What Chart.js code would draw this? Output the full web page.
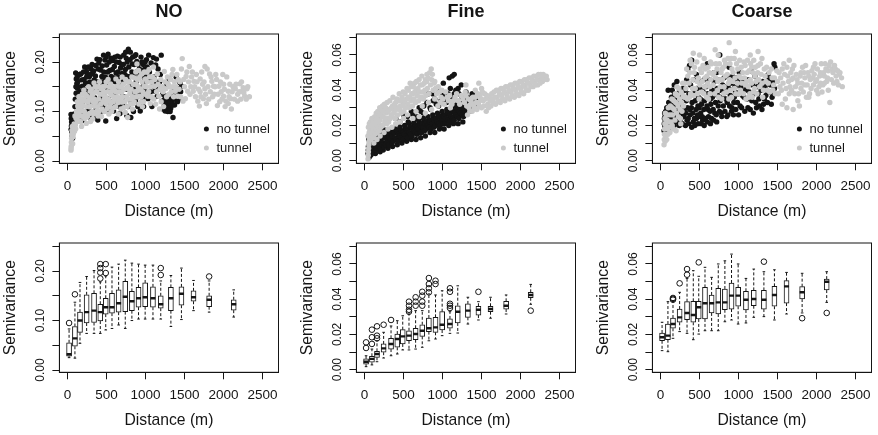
<!DOCTYPE html>
<html>
<head>
<meta charset="utf-8">
<script src="https://cdn.jsdelivr.net/npm/chart.js@4.4.1/dist/chart.umd.min.js"></script>
<style>
  html, body { margin: 0; padding: 0; background: #fff; overflow: hidden; }
  #wrap { position: relative; width: 878px; height: 435px; overflow: hidden; }
  canvas { position: absolute; }
</style>
</head>
<body>
<div id="wrap">
  <canvas id="noScatter" width="293" height="226" style="left:-1px;top:0"></canvas>
  <canvas id="fineScatter" width="293" height="226" style="left:296px;top:0"></canvas>
  <canvas id="coarseScatter" width="293" height="226" style="left:592px;top:0"></canvas>
  <canvas id="noBox" width="293" height="226" style="left:-1px;top:209px"></canvas>
  <canvas id="fineBox" width="293" height="226" style="left:296px;top:209px"></canvas>
  <canvas id="coarseBox" width="293" height="226" style="left:592px;top:209px"></canvas>
</div>
<script>
// ---- axes / labels ----
const panelTitles = ['NO', 'Fine', 'Coarse'];
const seriesNames = ['no tunnel', 'tunnel'];
const xTicks = [0, 500, 1000, 1500, 2000, 2500];
const yTicksNO = [0, 0.05, 0.10, 0.15, 0.20, 0.25];
const yLabelsNO = ['0.00', '0.10', '0.20'];
const yTicksPM = [0, 0.01, 0.02, 0.03, 0.04, 0.05, 0.06, 0.07];
const yLabelsPM = ['0.00', '0.02', '0.04', '0.06'];

// ---- semivariance clouds [distance, semivariance] ----
const noBlack = [
  [45,.094],[48,.086],[52,.079],[50,.071],[46,.064],[55,.058],[60,.051],[65,.046],[58,.090],[70,.083],
  [105,.178],[112,.166],[120,.157],[128,.147],[110,.137],[135,.127],[145,.117],[118,.108],[150,.098],[160,.088],[170,.176],[182,.164],[190,.151],[200,.121],[195,.082],[140,.150],
  [220,.190],[242,.181],[258,.174],[281,.171],[300,.186],[318,.177],[342,.164],[362,.193],[378,.206],[401,.198],[422,.184],[440,.171],[232,.158],[262,.146],[288,.133],[312,.124],[329,.113],[352,.101],[371,.091],[388,.083],[410,.116],[431,.129],[251,.100],[279,.089],[452,.151],[300,.152],[345,.142],
  [462,.214],[480,.204],[502,.194],[520,.216],[541,.183],[560,.171],[580,.203],[600,.191],[622,.178],[640,.212],[662,.199],[680,.188],[700,.177],[470,.161],[512,.141],[550,.119],[590,.101],[630,.086],[672,.096],[490,.081],[531,.103],[611,.131],[652,.144],[690,.156],[571,.161],[595,.168],
  [720,.214],[752,.208],[780,.226],[802,.205],[831,.196],[860,.212],[888,.201],[921,.186],[950,.172],[982,.161],[741,.185],[770,.171],[800,.150],[842,.136],[870,.121],[901,.110],[932,.101],[760,.092],[811,.088],[961,.128],[992,.141],[712,.111],[851,.176],[942,.210],[970,.195],[880,.160],
  [1012,.205],[1040,.214],[1071,.198],[1100,.209],[1130,.194],[1160,.186],[1190,.175],[1060,.165],[1091,.151],[1120,.141],[1150,.131],[1181,.160],[1210,.121],[1240,.112],[1031,.126],[1082,.110],[1201,.214],[1140,.206],
  [1262,.131],[1280,.121],[1301,.113],[1322,.106],[1341,.119],[1251,.101],[1290,.108],[1330,.126],[1352,.088],[1372,.113],[1400,.136],[1421,.146],[1441,.158],[1462,.151],[1392,.170],[1432,.125],[1362,.141],[1302,.166],[1271,.152],
  [75,.072],[85,.095],[95,.110],[100,.125],[108,.150],[125,.170],[132,.160],[155,.175],[165,.140],[175,.110],[185,.095],[205,.180],[212,.165],[225,.140],[235,.125],[245,.170],[255,.155],[268,.190],[275,.118],[285,.160],
  [295,.175],[305,.100],[315,.195],[325,.150],[335,.182],[348,.128],[358,.172],[368,.118],[382,.160],[392,.186],[405,.142],[415,.205],[425,.100],[435,.160],[445,.192],[455,.110],[465,.180],[475,.130],[485,.170],[495,.210],
  [505,.150],[515,.180],[525,.125],[535,.200],[545,.160],[555,.208],[565,.140],[575,.185],[585,.115],[605,.210],[615,.160],[625,.200],[635,.120],[645,.180],[655,.170],[665,.110],[675,.210],[685,.140],[695,.195],[705,.160],
  [715,.195],[725,.130],[735,.175],[745,.220],[755,.145],[765,.200],[775,.110],[785,.190],[795,.170],[805,.220],[815,.120],[825,.180],[835,.210],[845,.100],[855,.195],[865,.145],[875,.215],[885,.180],[895,.130],[905,.195],
  [915,.170],[925,.140],[935,.180],[945,.115],[955,.200],[965,.150],[975,.110],[985,.185],[995,.200],[1005,.170],[1020,.190],[1050,.180],[1065,.140],[1110,.170],[1135,.160],[1170,.145],[1220,.135],[1225,.105],[1245,.125],[1255,.115],
  [1265,.105],[1285,.100],[1295,.128],[1310,.118],[1315,.100],[1335,.112],[1345,.130],[1380,.125],[1410,.120],[1450,.140]
];
const noGray = [
  [45,.022],[48,.030],[50,.038],[52,.046],[55,.054],[58,.062],[62,.070],[46,.026],[66,.035],[70,.049],
  [90,.060],[101,.073],[110,.086],[121,.095],[130,.080],[141,.106],[150,.115],[160,.091],[171,.125],[180,.101],[190,.135],[201,.111],[210,.143],[220,.086],[231,.121],[240,.076],[250,.131],[95,.091],[131,.111],[180,.070],
  [270,.150],[291,.141],[310,.131],[330,.120],[351,.111],[371,.100],[390,.091],[410,.160],[430,.146],[451,.135],[470,.125],[491,.116],[510,.106],[530,.095],[551,.156],[570,.141],[590,.130],[281,.096],[320,.085],[361,.140],[400,.125],[441,.105],[481,.151],[520,.165],[560,.118],[600,.108],[340,.158],[300,.111],
  [620,.166],[640,.151],[661,.140],[680,.128],[700,.119],[721,.108],[740,.098],[760,.160],[781,.145],[800,.136],[821,.125],[840,.116],[860,.168],[881,.155],[900,.142],[921,.131],[940,.120],[960,.110],[981,.151],[1000,.166],[650,.095],[771,.088],[830,.105],[951,.176],[700,.170],[890,.196],[911,.183],
  [1020,.180],[1051,.170],[1080,.160],[1110,.151],[1141,.140],[1170,.131],[1200,.120],[1231,.110],[1260,.146],[1291,.155],[1320,.165],[1351,.150],[1380,.141],[1410,.131],[1441,.160],[1470,.207],[1460,.186],[1030,.131],[1061,.116],[1101,.190],[1151,.176],[1180,.105],[1300,.135],[1401,.175],[1480,.121],[1240,.181],[1350,.185],
  [1520,.171],[1551,.160],[1580,.150],[1611,.141],[1640,.130],[1670,.121],[1700,.166],[1731,.155],[1760,.146],[1790,.186],[1821,.176],[1850,.161],[1880,.135],[1510,.126],[1561,.191],[1600,.180],[1651,.175],[1690,.111],[1741,.126],[1780,.116],[1830,.140],[1871,.151],[1540,.141],[1620,.161],[1761,.191],[1700,.140],
  [1911,.165],[1940,.151],[1970,.140],[2000,.131],[2031,.121],[2060,.116],[2090,.126],[2121,.150],[2150,.146],[2181,.135],[2210,.156],[2240,.141],[2271,.131],[2300,.146],[2331,.130],[1951,.120],[2001,.155],[2061,.141],[2100,.105],[1921,.112],[2041,.170],[2180,.121],[2251,.148],[1990,.175],
  [75,.055],[85,.075],[105,.065],[115,.100],[125,.120],[135,.090],[145,.130],[155,.100],[165,.080],[175,.110],[185,.120],[195,.090],[205,.125],[215,.100],[225,.135],[235,.095],[245,.110],[255,.090],[265,.120],[275,.110],
  [285,.125],[295,.080],[305,.145],[315,.100],[325,.135],[335,.095],[345,.125],[355,.150],[365,.120],[375,.140],[385,.110],[395,.150],[405,.100],[415,.135],[425,.115],[435,.090],[445,.150],[455,.120],[465,.140],[475,.100],
  [485,.130],[495,.160],[505,.120],[515,.140],[525,.125],[535,.150],[545,.110],[555,.135],[565,.100],[575,.150],[585,.120],[595,.145],[605,.125],[615,.110],[625,.140],[635,.130],[645,.118],[655,.160],[665,.125],[675,.150],
  [685,.105],[695,.140],[705,.130],[715,.155],[725,.145],[735,.120],[745,.165],[755,.130],[765,.110],[775,.150],[785,.125],[795,.160],[805,.115],[815,.145],[825,.170],[835,.130],[845,.155],[855,.120],[865,.140],[875,.180],
  [885,.130],[895,.165],[905,.150],[915,.115],[925,.170],[935,.145],[945,.130],[955,.160],[965,.140],[975,.120],[985,.180],[995,.135],[1010,.150],[1025,.160],[1040,.140],[1045,.185],[1065,.150],[1075,.130],[1090,.170],[1105,.125],
  [1120,.165],[1130,.115],[1160,.155],[1185,.145],[1195,.165],[1215,.150],[1225,.140],[1250,.160],[1270,.130],[1280,.170],[1310,.150],[1330,.140],[1340,.175],[1360,.130],[1370,.160],[1390,.150],[1420,.165],[1430,.145],[1450,.130],[1490,.165],
  [1500,.150],[1530,.180],[1570,.135],[1590,.170],[1630,.150],[1660,.160],[1680,.145],[1710,.130],[1720,.180],[1750,.160],[1770,.135],[1800,.150],[1810,.125],[1840,.170],[1860,.130],[1890,.150],[1900,.175],[1930,.135],[1960,.160],[1980,.125],
  [2010,.145],[2020,.110],[2070,.130],[2080,.155],[2110,.140],[2140,.125],[2160,.155],[2200,.140],[2220,.125],[2260,.138],[2290,.125],[2310,.150],[2230,.160]
];
const fineBlack = [
  [45,.004],[50,.008],[55,.012],[60,.002],[48,.006],[65,.010],[52,.014],
  [80,.003],[90,.007],[100,.011],[110,.005],[120,.009],[130,.013],[140,.004],[151,.008],[160,.012],[170,.006],[181,.010],[190,.014],[200,.005],[211,.009],[220,.013],
  [120,.023],[190,.025],[150,.020],[82,.018],[240,.018],
  [240,.006],[261,.010],[280,.014],[300,.007],[321,.011],[340,.015],[360,.008],[381,.012],[400,.016],[420,.009],[441,.013],[460,.017],[480,.010],[501,.014],[520,.018],[540,.011],[561,.015],[580,.019],[600,.012],[621,.016],[640,.020],[660,.012],[681,.017],[700,.021],[720,.013],[741,.018],[760,.022],[780,.014],[801,.019],[820,.023],[840,.016],[861,.020],[880,.024],[900,.016],[921,.021],[940,.025],[960,.018],[981,.022],[1000,.026],[1020,.018],[1041,.023],[1060,.027],[1080,.020],[1101,.024],[1120,.028],[1140,.021],[1161,.025],[1180,.029],[1200,.021],[1221,.026],[1240,.030],[1260,.022],[1281,.027],[1300,.031],
  [400,.024],[451,.022],[500,.026],[550,.025],[601,.028],[650,.024],[700,.030],[751,.027],[800,.033],[850,.029],[901,.035],[950,.031],[1000,.037],[1051,.033],[1100,.041],[1150,.038],[1200,.041],[1251,.036],[1300,.039],[1350,.034],[1400,.036],[1451,.032],[1085,.047],[1125,.048],[1150,.049],[1010,.044],[1250,.029],[1351,.028],[820,.038],[951,.040],[1420,.030],[1380,.038],
  [70,.005],[75,.009],[85,.012],[95,.004],[105,.008],[115,.012],[125,.006],[135,.010],[145,.007],[155,.011],[165,.009],[175,.013],[185,.008],[195,.012],[205,.007],[215,.011],[225,.009],[230,.015],[250,.008],[255,.013],
  [270,.009],[275,.016],[290,.011],[295,.016],[310,.009],[315,.013],[330,.012],[335,.017],[350,.010],[355,.014],[370,.011],[375,.016],[390,.013],[395,.018],[410,.012],[415,.017],[430,.011],[435,.015],[450,.014],[455,.019],
  [470,.013],[475,.017],[490,.012],[495,.016],[510,.015],[515,.020],[530,.014],[535,.018],[550,.013],[555,.017],[570,.016],[575,.021],[590,.015],[595,.019],[610,.014],[615,.018],[630,.017],[635,.022],[650,.016],[655,.020],
  [670,.015],[675,.019],[690,.018],[695,.023],[710,.016],[715,.020],[730,.016],[735,.021],[750,.019],[755,.024],[770,.017],[775,.021],[790,.018],[795,.022],[810,.020],[815,.025],[830,.019],[835,.022],[850,.018],[855,.023],
  [870,.021],[875,.026],[890,.019],[895,.023],[910,.020],[915,.024],[930,.022],[935,.027],[950,.021],[955,.025],[970,.020],[975,.024],[990,.023],[995,.028],[1010,.021],[1015,.025],[1030,.021],[1035,.026],[1050,.024],[1055,.029],
  [1070,.023],[1075,.027],[1090,.022],[1095,.026],[1110,.025],[1115,.030],[1130,.024],[1135,.028],[1150,.023],[1155,.027],[1170,.026],[1175,.031],[1190,.025],[1195,.029],[1210,.024],[1215,.028],[1230,.027],[1235,.032],[1250,.026],[1255,.030],
  [1270,.025],[1275,.029],[1290,.028],[1295,.033],
  [560,.022],[620,.026],[680,.025],[720,.028],[760,.031],[840,.030],[880,.034],[920,.032],[980,.034],[1030,.035],[1070,.038],[1130,.036],[1170,.040],[1210,.038],[1270,.034],[1320,.036],[1370,.031],[1430,.034],[1240,.043],[1170,.033],[870,.038]
];
const fineGray = [
  [45,.001],[48,.003],[50,.005],[52,.007],[55,.009],[58,.011],[45,.014],[60,.016],[50,.019],[62,.021],
  [80,.012],[100,.015],[120,.017],[140,.019],[160,.016],[180,.021],[200,.023],[220,.020],[240,.025],[260,.022],[280,.027],[300,.024],[320,.029],[340,.026],[360,.031],[380,.028],[400,.033],[420,.030],[440,.034],[460,.031],[480,.036],[500,.033],[520,.038],[540,.035],[560,.040],[580,.036],[600,.042],[620,.038],[640,.044],[660,.040],[700,.046],[740,.043],[780,.046],[800,.049],[855,.052],[870,.049],[900,.045],
  [120,.010],[160,.012],[200,.014],[250,.016],[300,.018],[350,.019],[400,.021],[450,.022],[500,.024],[550,.026],
  [620,.024],[660,.028],[700,.025],[740,.031],[780,.027],[820,.033],[860,.029],[900,.035],[940,.031],[980,.036],[1020,.032],[1060,.036],[1100,.030],[1140,.034],[1180,.038],[1220,.032],[1260,.035],[1300,.037],[1420,.040],[1500,.041],[1300,.043],[1465,.044],
  [1320,.026],[1340,.030],[1360,.034],[1380,.028],[1400,.032],[1420,.036],[1440,.029],[1460,.033],[1480,.037],[1500,.030],[1520,.034],[1540,.038],[1560,.028],[1580,.032],[1600,.036],[1620,.031],[1640,.035],[1660,.039],[1680,.032],[1700,.036],[1720,.040],[1740,.033],[1760,.037],[1780,.041],[1800,.034],[1820,.038],[1840,.042],[1860,.035],[1880,.039],[1900,.043],[1920,.036],[1940,.040],[1960,.044],[1980,.037],[2000,.041],[2020,.045],[2040,.038],[2060,.042],[2080,.046],[2100,.040],[2120,.044],[2140,.047],[2160,.042],[2180,.045],[2200,.048],[2220,.043],[2240,.046],[2260,.049],[2280,.045],[2300,.048],[2320,.047],[2340,.046],
  [65,.013],[70,.017],[75,.022],[85,.020],[90,.016],[95,.024],[105,.019],[110,.022],[115,.013],[125,.021],[130,.025],[135,.015],[145,.023],[150,.027],[155,.018],[165,.024],[170,.028],[175,.019],[185,.026],[190,.017],
  [195,.030],[205,.027],[210,.019],[215,.029],[225,.025],[230,.031],[235,.020],[245,.028],[255,.032],[265,.024],[270,.030],[285,.021],[290,.033],[305,.028],[310,.022],[325,.034],[330,.024],[345,.030],[355,.025],[365,.036],
  [375,.027],[385,.032],[395,.024],[405,.029],[415,.035],[425,.026],[445,.038],[450,.029],[465,.034],[470,.027],[485,.031],[495,.039],[505,.028],[515,.034],[525,.030],[545,.041],[555,.032],[565,.036],[575,.030],[585,.044],
  [595,.034],[605,.038],[615,.031],[625,.042],[635,.035],[645,.039],[655,.033],[665,.045],[675,.037],[685,.041],[695,.034],[705,.039],[715,.043],[725,.036],[735,.048],[745,.039],[755,.035],[765,.044],[775,.040],[785,.037],
  [795,.045],[805,.041],[815,.047],[825,.038],[835,.050],[845,.043],[860,.046],[880,.040],[890,.044],[910,.041],[925,.038],[945,.042],[960,.039],[970,.033],[990,.040],[1005,.035],[1040,.039],[1075,.034],[1090,.037],[1120,.032],
  [1160,.036],[1200,.034],[1240,.037],[1280,.033],[1290,.039],
  [1310,.031],[1330,.035],[1350,.028],[1370,.032],[1390,.036],[1410,.030],[1430,.033],[1450,.038],[1470,.031],[1490,.035],[1510,.039],[1530,.031],[1550,.035],[1570,.037],[1590,.030],[1610,.034],[1630,.038],[1650,.033],[1670,.036],[1690,.040],
  [1710,.034],[1730,.038],[1750,.041],[1770,.035],[1790,.039],[1810,.042],[1830,.036],[1850,.040],[1870,.043],[1890,.037],[1910,.041],[1930,.044],[1950,.038],[1970,.042],[1990,.045],[2010,.039],[2030,.043],[2050,.046],[2070,.040],[2090,.044],
  [2110,.047],[2130,.042],[2150,.045],[2170,.048],[2190,.043],[2210,.046],[2230,.049],[2250,.044],[2270,.047],[2290,.049],[2310,.046],[2330,.048]
];
const coarseBlack = [
  [45,.017],[48,.021],[50,.024],[52,.027],[55,.019],[58,.025],[62,.022],[66,.028],
  [90,.016],[100,.021],[110,.025],[120,.029],[131,.033],[140,.036],[150,.040],[161,.022],[170,.030],[180,.038],[190,.026],[200,.034],[132,.019],[176,.043],[98,.040],[210,.045],
  [220,.022],[240,.020],[260,.024],[280,.021],[300,.025],[320,.020],[340,.023],[360,.021],[380,.026],[400,.019],[420,.022],[440,.020],[460,.024],[480,.021],[500,.025],[520,.021],[540,.023],[560,.020],[600,.022],[640,.021],[680,.023],[720,.022],
  [250,.031],[270,.036],[290,.041],[330,.034],[350,.052],[372,.054],[400,.057],[395,.030],[430,.038],[460,.049],[480,.031],[510,.035],[530,.041],[560,.046],[600,.055],[610,.029],[640,.035],[660,.040],[690,.045],[720,.050],[760,.060],[740,.031],[780,.027],[800,.036],[830,.042],[860,.048],[880,.053],[910,.028],[940,.033],[960,.039],[990,.045],[1010,.050],[1040,.030],[1070,.036],[1100,.041],[1130,.046],[1160,.051],[1190,.027],[1220,.033],[1250,.038],[1280,.044],[1300,.029],[1330,.035],[1360,.040],[1390,.046],[1420,.032],[1440,.038],[1455,.055],[1465,.053],[850,.025],[1000,.026],[1150,.029],
  [70,.018],[75,.024],[80,.030],[85,.020],[95,.027],[105,.033],[115,.019],[125,.024],[135,.028],[145,.021],[155,.031],[165,.026],[175,.020],[185,.033],[195,.023],[205,.028],[215,.036],[225,.029],[235,.024],[245,.040],
  [255,.027],[265,.021],[275,.030],[285,.026],[295,.035],[305,.029],[315,.040],[325,.027],[335,.046],[345,.030],[355,.024],[365,.038],[375,.029],[385,.043],[405,.033],[415,.027],[425,.046],[435,.024],[445,.034],[455,.029],
  [465,.041],[475,.026],[485,.036],[495,.030],[505,.045],[515,.027],[525,.032],[535,.025],[545,.039],[555,.029],[565,.034],[575,.024],[585,.042],[595,.031],[605,.038],[615,.025],[625,.046],[635,.028],[645,.032],[655,.024],
  [665,.036],[675,.029],[685,.050],[695,.027],[705,.033],[715,.026],[725,.041],[735,.037],[745,.046],[755,.028],[765,.034],[775,.040],[785,.025],[795,.043],[805,.031],[815,.047],[825,.028],[835,.035],[845,.039],[855,.033],
  [865,.026],[875,.041],[885,.031],[895,.037],[905,.044],[915,.030],[925,.048],[935,.026],[945,.036],[955,.042],[965,.029],[975,.047],[985,.033],[995,.038],[1020,.031],[1030,.042],[1050,.037],[1060,.046],[1080,.028],[1090,.040],
  [1110,.035],[1120,.030],[1140,.039],[1170,.034],[1180,.043],[1200,.038],[1210,.048],[1230,.030],[1240,.042],[1260,.035],[1270,.031],[1290,.040],[1310,.045],[1320,.032],[1340,.042],[1350,.037],[1370,.033],[1380,.049],[1400,.039],[1410,.043],
  [1430,.036],[1450,.045],[1460,.041]
];
const coarseGray = [
  [45,.009],[48,.012],[50,.015],[52,.018],[55,.021],[58,.024],[62,.027],[60,.011],
  [90,.018],[110,.022],[130,.026],[150,.030],[170,.034],[190,.038],[210,.042],[230,.025],[250,.029],[270,.033],[290,.037],[100,.030],[150,.020],[200,.017],[120,.016],[260,.021],
  [380,.057],[420,.061],[500,.060],[560,.058],[700,.063],[740,.060],[880,.067],[905,.058],[960,.062],[1150,.060],[1250,.062],[1300,.058],[640,.056],[820,.057],
  [310,.044],[350,.048],[370,.036],[410,.041],[430,.050],[470,.045],[510,.052],[530,.039],[570,.047],[590,.036],[610,.053],[630,.042],[670,.049],[710,.055],[730,.040],[750,.046],[790,.052],[810,.038],[830,.048],[870,.044],[890,.055],[910,.036],[930,.050],[950,.041],[990,.052],[1010,.038],[1030,.047],[1070,.056],[1090,.043],[1110,.050],[1130,.036],[1150,.046],[1170,.053],[1190,.039],[1210,.048],[1250,.054],[1270,.042],[1290,.049],[1310,.036],[1330,.052],[1350,.045],[1370,.040],[1390,.050],[1430,.047],[1450,.043],[1470,.038],
  [1500,.045],[1520,.050],[1550,.040],[1580,.055],[1600,.035],[1630,.048],[1660,.042],[1690,.052],[1720,.038],[1750,.046],[1780,.031],[1810,.044],[1840,.050],[1870,.036],[1900,.048],[1930,.041],[1960,.053],[1990,.045],[2020,.038],[2050,.050],[2080,.043],[2110,.055],[2140,.047],[2170,.033],[2200,.052],[2230,.054],[2260,.045],[2290,.049],[2330,.042],[1560,.032],[1620,.030],[1700,.029],[1760,.034],[1900,.036],[2000,.040],[2100,.048],[2180,.056],[1650,.057],[1800,.050],[1530,.042],[1680,.046],[1850,.043],[1950,.047],[2050,.044],[2150,.051],
  [65,.014],[70,.020],[75,.026],[80,.012],[85,.023],[95,.015],[105,.026],[115,.019],[125,.031],[135,.022],[145,.035],[155,.026],[165,.018],[175,.029],[185,.023],[195,.033],[205,.027],[215,.037],[225,.031],[235,.041],
  [245,.035],[255,.024],[265,.039],[275,.028],[285,.044],[295,.031],[305,.036],[325,.041],[335,.052],[345,.035],[365,.044],[375,.050],[385,.038],[395,.055],[415,.046],[425,.037],[435,.053],
  [445,.041],[465,.056],[475,.038],[485,.047],[495,.035],[505,.043],[525,.050],[535,.045],[545,.054],[555,.038],[565,.042],[575,.052],[595,.048],[605,.044],[615,.035],[625,.050],[635,.038],
  [645,.046],[655,.055],[675,.043],[685,.050],[695,.038],[705,.047],[725,.052],[735,.045],[745,.036],[755,.055],[765,.042],[775,.050],[785,.035],[795,.046],[805,.053],[815,.042],[835,.055],
  [845,.039],[855,.049],[865,.058],[875,.035],[885,.046],[895,.040],[915,.052],[925,.045],[945,.058],[955,.047],[965,.038],[975,.055],[985,.044],[1005,.048],[1015,.057],[1025,.040],[1035,.053],[1045,.044],
  [1055,.050],[1065,.038],[1075,.047],[1085,.054],[1095,.035],[1105,.045],[1115,.057],[1125,.042],[1135,.051],[1145,.038],[1155,.055],[1165,.044],[1175,.036],[1185,.050],[1195,.057],[1205,.041],[1215,.053],[1225,.045],[1235,.038],[1245,.050],
  [1260,.046],[1280,.055],[1300,.044],[1320,.040],[1340,.048],[1360,.053],[1380,.044],[1400,.039],[1420,.052],[1440,.040],[1460,.047],
  [1490,.051],[1510,.038],[1540,.047],[1560,.052],[1570,.044],[1590,.049],[1610,.041],[1620,.053],[1640,.045],[1650,.038],[1670,.050],[1680,.040],[1700,.047],[1710,.054],[1730,.042],[1740,.049],[1760,.044],[1770,.038],[1790,.048],[1800,.041],
  [1820,.053],[1830,.039],[1850,.047],[1860,.054],[1880,.043],[1890,.050],[1910,.038],[1920,.046],[1940,.051],[1960,.043],[1970,.049],[1980,.055],[2000,.046],[2010,.052],[2030,.042],[2040,.048],[2060,.055],[2070,.039],[2090,.050],[2100,.044],
  [2120,.052],[2130,.045],[2150,.040],[2160,.054],[2190,.046],[2210,.050],[2220,.044],[2240,.052],[2250,.048],[2270,.051],[2280,.043],[2300,.050],[2320,.047]
];

// ---- binned boxplots ----
const binDist = [20, 95, 160, 245, 340, 420, 490, 570, 655, 740, 825, 910, 995, 1095, 1195, 1325, 1460, 1615, 1815, 2130];

const noLo  = [.025,.024,.054,.074,.074,.074,.081,.084,.091,.084,.100,.103,.103,.103,.103,.088,.102,.120,.117,.107];
const noQ1  = [.028,.048,.076,.095,.096,.099,.113,.115,.117,.118,.120,.127,.128,.127,.125,.120,.131,.139,.128,.121];
const noMed = [.032,.064,.100,.117,.120,.117,.127,.127,.135,.148,.139,.145,.147,.145,.133,.145,.154,.147,.142,.133];
const noQ3  = [.055,.088,.117,.152,.155,.133,.145,.155,.162,.179,.159,.167,.176,.168,.150,.167,.168,.160,.150,.142];
const noHi  = [.083,.137,.177,.189,.201,.178,.190,.208,.214,.222,.216,.214,.212,.212,.180,.191,.206,.181,.180,.162];
const noOut = [[20,.095],[95,.153],[420,.214],[420,.206],[420,.197],[420,.185],[490,.214],[490,.196],[1195,.206],[1195,.192],[1815,.189]];

const fineLo  = [.0017,.0027,.0045,.0066,.0079,.0089,.0112,.0112,.0117,.0127,.0164,.0174,.0193,.0206,.0208,.0259,.0282,.0292,.0316,.0371];
const fineQ1  = [.0031,.0042,.0070,.0099,.0117,.0127,.0146,.0164,.0170,.0189,.0216,.0212,.0225,.0235,.0265,.0297,.0310,.0329,.0344,.0408];
const fineMed = [.0045,.0061,.0089,.0121,.0146,.0174,.0189,.0193,.0202,.0221,.0235,.0240,.0255,.0259,.0329,.0335,.0340,.0344,.0363,.0424];
const fineQ3  = [.0061,.0076,.0104,.0146,.0178,.0202,.0227,.0221,.0235,.0255,.0293,.0297,.0329,.0288,.0363,.0373,.0360,.0360,.0388,.0439];
const fineHi  = [.0079,.0117,.0164,.0212,.0248,.0278,.0306,.0316,.0335,.0335,.0430,.0424,.0448,.0329,.0476,.0411,.0386,.0411,.0424,.0484];
const fineOut = [[20,.0155],[20,.0123],[95,.0227],[95,.0184],[95,.0146],[160,.0246],[160,.0193],[160,.0178],[245,.0255],[340,.0282],
  [570,.0386],[570,.0363],[570,.0340],[570,.0329],[655,.0411],[655,.0386],[655,.0363],[740,.0442],[740,.0420],[740,.0386],[740,.0363],
  [825,.0520],[825,.0486],[825,.0462],[825,.0439],[910,.0505],[910,.0486],[1095,.0462],[1095,.0442],[1095,.0374],[1095,.0363],[1095,.0350],[1460,.0442],[2130,.0335]];

const coarseLo  = [.0108,.0102,.0178,.0216,.0206,.0170,.0202,.0221,.0221,.0221,.0272,.0282,.0259,.0265,.0297,.0301,.0282,.0316,.0322,.0382];
const coarseQ1  = [.0164,.0170,.0235,.0269,.0284,.0269,.0288,.0288,.0322,.0316,.0340,.0344,.0360,.0339,.0363,.0344,.0360,.0378,.0401,.0452];
const coarseMed = [.0184,.0193,.0259,.0297,.0322,.0310,.0354,.0377,.0377,.0382,.0382,.0420,.0420,.0397,.0401,.0397,.0424,.0473,.0439,.0499];
const coarseQ3  = [.0208,.0259,.0293,.0344,.0386,.0388,.0388,.0467,.0424,.0462,.0458,.0492,.0467,.0445,.0450,.0450,.0473,.0505,.0471,.0514];
const coarseHi  = [.0269,.0386,.0392,.0439,.0518,.0562,.0530,.0581,.0524,.0600,.0618,.0656,.0600,.0518,.0571,.0556,.0567,.0552,.0547,.0556];
const coarseOut = [[160,.0407],[160,.0402],[160,.0397],[245,.0490],[340,.0571],[340,.0539],[490,.0609],[1325,.0613],[1815,.0292],[2130,.0322]];

// ---- look ----
const FONT = '"Liberation Sans", Arial, Helvetica, sans-serif';
const INK = '#151515';
const BLACK_PT = '#141414';
const GRAY_PT = '#c9c9c9';

function decor(yLabels, showLegend) {
  return {
    id: 'decor',
    afterDatasetsDraw(chart) {
      const { ctx, chartArea: a } = chart;
      ctx.save();
      ctx.strokeStyle = INK;
      ctx.lineWidth = 1;
      ctx.strokeRect(a.left, a.top, a.right - a.left, a.bottom - a.top);
      ctx.restore();
    },
    afterDraw(chart) {
      const { ctx, chartArea: a, scales } = chart;
      ctx.save();
      ctx.fillStyle = INK;
      ctx.font = '12px ' + FONT;
      ctx.textAlign = 'center';
      ctx.textBaseline = 'middle';
      yLabels.forEach(t => {
        const y = scales.y.getPixelForValue(parseFloat(t));
        ctx.save();
        ctx.translate(a.left - 19, y);
        ctx.rotate(-Math.PI / 2);
        ctx.fillText(t, 0, 0);
        ctx.restore();
      });
      if (showLegend) {
        const cols = [BLACK_PT, GRAY_PT];
        ctx.font = '13px ' + FONT;
        ctx.textAlign = 'left';
        seriesNames.forEach((name, i) => {
          const y = a.top + 95 + i * 19;
          ctx.fillStyle = cols[i];
          ctx.beginPath();
          ctx.arc(a.left + 147, y, 2.5, 0, Math.PI * 2);
          ctx.fill();
          ctx.fillStyle = INK;
          ctx.fillText(name, a.left + 157, y + 0.5);
        });
      }
      ctx.restore();
    }
  };
}

function baseOptions(title, yMin, yMax, yTicks) {
  return {
    responsive: false,
    animation: false,
    events: [],
    layout: { padding: { top: title ? 0 : 34, right: 13.5, bottom: 0, left: 0 } },
    plugins: {
      legend: { display: false },
      tooltip: { enabled: false },
      title: {
        display: !!title,
        text: title,
        color: INK,
        fullSize: false,
        font: { family: FONT, size: 18, weight: 'bold' },
        padding: { top: 0.9, bottom: 11.5 }
      }
    },
    scales: {
      x: {
        type: 'linear',
        min: -104,
        max: 2704,
        offset: false,
        afterBuildTicks: s => { s.ticks = xTicks.map(v => ({ value: v })); },
        afterFit: s => { s.height = 62.7; },
        grid: { display: true, offset: false, drawOnChartArea: false, drawTicks: true, tickLength: 7, color: INK, tickColor: INK },
        border: { display: true, color: INK, width: 1 },
        ticks: {
          autoSkip: false, maxRotation: 0, padding: 8.3, color: INK,
          font: { family: FONT, size: 13.5 },
          callback: v => String(v)
        },
        title: { display: true, text: 'Distance (m)', color: INK, font: { family: FONT, size: 15.7 }, padding: { top: 0, bottom: 4.9 } }
      },
      y: {
        type: 'linear',
        min: yMin,
        max: yMax,
        afterBuildTicks: s => { s.ticks = yTicks.map(v => ({ value: v })); },
        afterFit: s => { s.width = 60.4; },
        grid: { display: true, drawOnChartArea: false, drawTicks: true, tickLength: 7, color: INK, tickColor: INK },
        border: { display: true, color: INK, width: 1 },
        ticks: { display: false },
        title: { display: true, text: 'Semivariance', color: INK, font: { family: FONT, size: 15.7 }, padding: { top: 2.6, bottom: 0 } }
      }
    }
  };
}

function scatterPanel(id, title, black, gray, yMin, yMax, yTicks, yLabels) {
  const toXY = arr => arr.map(p => ({ x: p[0], y: p[1] }));
  new Chart(document.getElementById(id), {
    type: 'scatter',
    data: {
      datasets: [
        { label: seriesNames[1], data: toXY(gray), backgroundColor: GRAY_PT, borderWidth: 0, pointRadius: 2.7, order: 0 },
        { label: seriesNames[0], data: toXY(black), backgroundColor: BLACK_PT, borderWidth: 0, pointRadius: 2.7, order: 1 }
      ]
    },
    options: baseOptions(title, yMin, yMax, yTicks),
    plugins: [decor(yLabels, true)]
  });
}

function boxPanel(id, lo, q1, med, q3, hi, out, yMin, yMax, yTicks, yLabels) {
  const whiskers = [];
  const staples = [];
  binDist.forEach((d, i) => {
    whiskers.push({ x: d, y: q1[i] }, { x: d, y: lo[i] }, { x: d, y: null });
    whiskers.push({ x: d, y: q3[i] }, { x: d, y: hi[i] }, { x: d, y: null });
    staples.push({ x: d, y: lo[i] }, { x: d, y: hi[i] });
  });
  new Chart(document.getElementById(id), {
    type: 'bar',
    data: {
      datasets: [
        { type: 'bar', data: binDist.map((d, i) => ({ x: d, y: [q1[i], q3[i]] })), backgroundColor: '#ffffff', borderColor: INK, borderWidth: 1, borderSkipped: false, barThickness: 5, order: 1 },
        { type: 'scatter', data: binDist.map((d, i) => ({ x: d, y: med[i] })), pointStyle: 'line', pointRadius: 2.5, borderWidth: 2.4, borderColor: INK, order: 0 },
        { type: 'line', data: whiskers, borderColor: INK, borderWidth: 1, borderDash: [3, 2], pointRadius: 0, spanGaps: false, fill: false, order: 2 },
        { type: 'scatter', data: staples, pointStyle: 'line', pointRadius: 1.3, borderWidth: 1, borderColor: INK, order: 2 },
        { type: 'scatter', data: out.map(p => ({ x: p[0], y: p[1] })), pointStyle: 'circle', pointRadius: 2.8, borderWidth: 1, borderColor: INK, backgroundColor: 'rgba(0,0,0,0)', order: 0 }
      ]
    },
    options: baseOptions('', yMin, yMax, yTicks),
    plugins: [decor(yLabels, false)]
  });
}

scatterPanel('noScatter', panelTitles[0], noBlack, noGray, -0.0046, 0.2567, yTicksNO, yLabelsNO);
scatterPanel('fineScatter', panelTitles[1], fineBlack, fineGray, -0.0015, 0.0719, yTicksPM, yLabelsPM);
scatterPanel('coarseScatter', panelTitles[2], coarseBlack, coarseGray, -0.0015, 0.0719, yTicksPM, yLabelsPM);

boxPanel('noBox', noLo, noQ1, noMed, noQ3, noHi, noOut, -0.0046, 0.2567, yTicksNO, yLabelsNO);
boxPanel('fineBox', fineLo, fineQ1, fineMed, fineQ3, fineHi, fineOut, -0.0015, 0.0719, yTicksPM, yLabelsPM);
boxPanel('coarseBox', coarseLo, coarseQ1, coarseMed, coarseQ3, coarseHi, coarseOut, -0.0015, 0.0719, yTicksPM, yLabelsPM);
</script>
</body>
</html>
